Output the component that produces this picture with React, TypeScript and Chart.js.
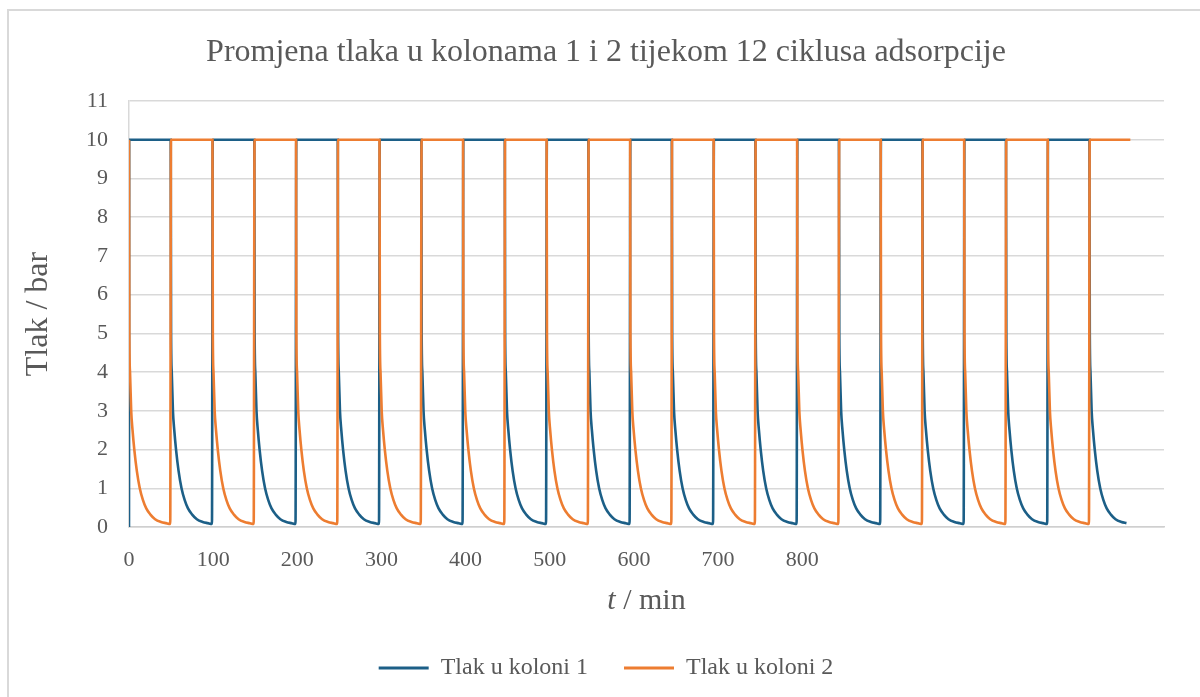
import { useEffect, useRef } from "react";
import { Chart, registerables } from "chart.js";

Chart.register(...registerables);

// ---------- text ----------
const TITLE = "Promjena tlaka u kolonama 1 i 2 tijekom 12 ciklusa adsorpcije";
const Y_TITLE = "Tlak / bar";
const X_TITLE_VAR = "t";
const X_TITLE_UNIT = " / min";
const SERIES_NAMES = ["Tlak u koloni 1", "Tlak u koloni 2"];
const SERIES_COLORS = ["#1c5f87", "#ED7D31"];

// ---------- axes ----------
const X_TICKS = [0, 100, 200, 300, 400, 500, 600, 700, 800];
const X_MAX = 1230;
const Y_MIN = 0;
const Y_MAX = 11;

// ---------- data ----------
// times at which the two columns switch (column 1 high first)
const SWITCH_TIMES = [
  0, 49.6, 99.2, 148.9, 198.5, 248.1, 297.7, 347.4, 397.0, 446.6, 496.3, 545.9,
  595.5, 645.1, 694.8, 744.4, 794.0, 843.7, 893.3, 942.9, 992.5, 1042.2, 1091.8,
  1141.4, 1190.0,
];
const HIGH_PRESSURE = 10;
const COLUMN1_START_PRESSURE = 0;
const RISE_DELAY = 0.3;
// depressurisation curve after each switch: time since switch / pressure
const DECAY_OFFSETS = [0, 0.4, 1.2, 2.6, 4.2, 6.3, 9.3, 12.8, 16.5, 20.5, 25.5, 31, 38, 44, 49];
const DECAY_PRESSURES = [10, 5.0, 4.0, 3.0, 2.5, 2.0, 1.45, 1.0, 0.7, 0.48, 0.32, 0.2, 0.13, 0.1, 0.08];

type Pt = { x: number; y: number };

function buildSeries(column: number): Pt[] {
  const pts: Pt[] = [];
  for (let k = 0; k < SWITCH_TIMES.length - 1; k++) {
    const s = SWITCH_TIMES[k];
    const e = SWITCH_TIMES[k + 1];
    const high = (k % 2 === 0) === (column === 0);
    if (high) {
      if (k === 0) pts.push({ x: s, y: COLUMN1_START_PRESSURE });
      pts.push({ x: s + (k === 0 ? 0.2 : RISE_DELAY), y: HIGH_PRESSURE });
      pts.push({ x: e, y: HIGH_PRESSURE });
    } else {
      DECAY_OFFSETS.forEach((dt, i) => {
        if (s + dt < e) pts.push({ x: s + dt, y: DECAY_PRESSURES[i] });
      });
    }
  }
  return pts;
}

const FONT = '"Liberation Serif", "Times New Roman", serif';
const TEXT_COLOR = "#595959";
const GRID_COLOR = "#d9d9d9";

const axisTitles = {
  id: "axisTitles",
  afterDraw(chart: any) {
    const { ctx, chartArea } = chart;
    ctx.save();
    ctx.fillStyle = TEXT_COLOR;
    ctx.textBaseline = "middle";
    // x title with italic variable
    ctx.font = `italic 30px ${FONT}`;
    const w1 = ctx.measureText(X_TITLE_VAR).width;
    ctx.font = `30px ${FONT}`;
    const w2 = ctx.measureText(X_TITLE_UNIT).width;
    const cx = (chartArea.left + chartArea.right) / 2;
    const y = chartArea.bottom + 74;
    let x = cx - (w1 + w2) / 2;
    ctx.textAlign = "left";
    ctx.font = `italic 30px ${FONT}`;
    ctx.fillText(X_TITLE_VAR, x, y);
    x += w1;
    ctx.font = `30px ${FONT}`;
    ctx.fillText(X_TITLE_UNIT, x, y);
    // y title
    ctx.translate(chartArea.left - 90, (chartArea.top + chartArea.bottom) / 2);
    ctx.rotate(-Math.PI / 2);
    ctx.textAlign = "center";
    ctx.font = `32px ${FONT}`;
    ctx.fillText(Y_TITLE, 0, 0);
    ctx.restore();
  },
};

export default function App() {
  const ref = useRef<HTMLCanvasElement | null>(null);

  useEffect(() => {
    if (!ref.current) return;
    const datasets = SERIES_NAMES.map((name, i) => ({
      label: name,
      data: buildSeries(i),
      borderColor: SERIES_COLORS[i],
      backgroundColor: SERIES_COLORS[i],
      borderWidth: 2.6,
      pointRadius: 0,
      pointHoverRadius: 0,
      cubicInterpolationMode: "monotone" as const,
      fill: false,
      order: i === 1 ? -1 : 0,
    }));
    const chart = new Chart(ref.current, {
      type: "line",
      data: { datasets },
      plugins: [axisTitles],
      options: {
        animation: false,
        responsive: false,
        maintainAspectRatio: false,
        parsing: false as any,
        layout: { padding: { left: 12, right: 0, top: 0, bottom: 7 } },
        plugins: {
          tooltip: { enabled: false },
          title: {
            display: true,
            text: TITLE,
            color: TEXT_COLOR,
            font: { family: FONT, size: 32, weight: "normal" as any },
            padding: { top: 33, bottom: 29.6 },
          },
          legend: {
            position: "bottom",
            labels: {
              color: TEXT_COLOR,
              font: { family: FONT, size: 24 },
              boxWidth: 50,
              boxHeight: 3,
              padding: 36,
              generateLabels: (c: any) =>
                c.data.datasets.map((d: any, i: number) => ({
                  text: d.label,
                  fillStyle: d.borderColor,
                  strokeStyle: d.borderColor,
                  lineWidth: 0,
                  hidden: false,
                  datasetIndex: i,
                  fontColor: TEXT_COLOR,
                })),
            },
          },
        },
        scales: {
          x: {
            type: "linear",
            min: 0,
            max: X_MAX,
            afterBuildTicks: (axis: any) => {
              axis.ticks = X_TICKS.map((v) => ({ value: v }));
            },
            afterFit: (axis: any) => {
              axis.height = 93;
            },
            grid: { display: false, drawTicks: false },
            border: { display: true, color: "#cfcfcf", width: 1.5 },
            ticks: {
              color: TEXT_COLOR,
              font: { family: FONT, size: 22 },
              padding: 20,
              maxRotation: 0,
              autoSkip: false,
              callback: (v: any) => String(v),
            },
          },
          y: {
            type: "linear",
            min: Y_MIN,
            max: Y_MAX,
            afterFit: (axis: any) => {
              axis.width = 117;
            },
            grid: { color: GRID_COLOR, lineWidth: 1.5, drawTicks: false },
            border: { display: true, color: GRID_COLOR, width: 1.5 },
            ticks: {
              stepSize: 1,
              color: TEXT_COLOR,
              font: { family: FONT, size: 22 },
              padding: 21,
            },
          },
          // empty right-hand margin inside the plot frame
          yRight: {
            type: "linear",
            position: "right",
            min: Y_MIN,
            max: Y_MAX,
            afterFit: (axis: any) => {
              axis.width = 36;
            },
            grid: { display: false, drawTicks: false },
            border: { display: false },
            ticks: { display: false },
          },
        },
      },
    });
    return () => chart.destroy();
  }, []);

  return (
    <div
      style={{
        position: "fixed",
        left: 0,
        top: 0,
        width: 1200,
        height: 697,
        overflow: "hidden",
        background: "#fff",
      }}
    >
      <div
        style={{
          position: "absolute",
          left: 7,
          top: 9,
          width: 1400,
          height: 900,
          border: "2px solid #d9d9d9",
          boxSizing: "border-box",
        }}
      />
      <canvas
        ref={ref}
        width={1200}
        height={697}
        style={{ position: "absolute", left: 0, top: 0, width: 1200, height: 697 }}
      />
    </div>
  );
}
